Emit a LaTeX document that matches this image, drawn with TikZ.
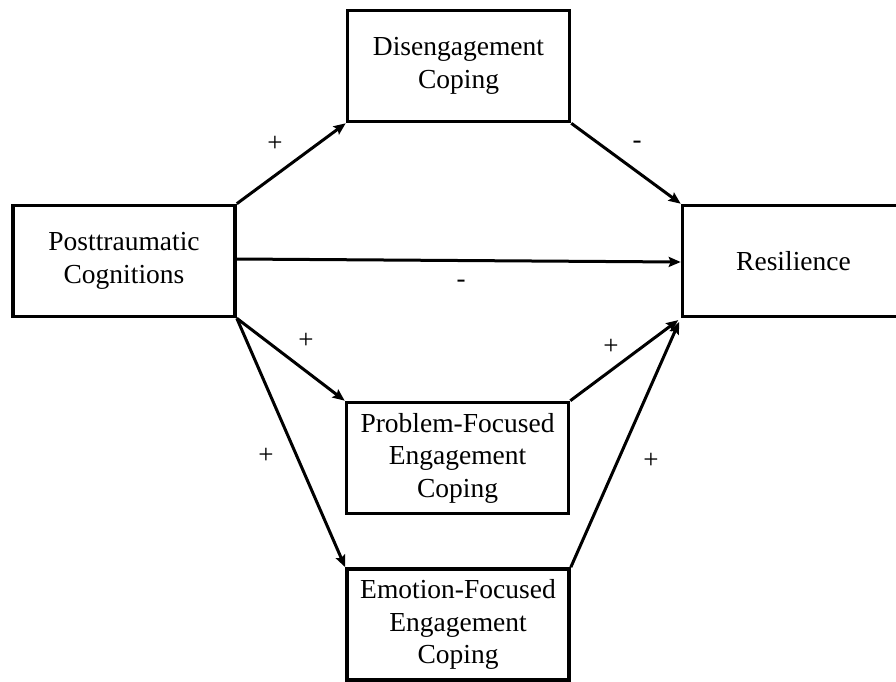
\documentclass[tikz,border=0pt]{standalone}
\usepackage{fontspec}
\setmainfont{Liberation Serif}
\usetikzlibrary{arrows.meta}
\begin{document}
\begin{tikzpicture}[x=1pt,y=-1pt,
  box/.style={draw, line width=3.6pt, minimum width=222pt, minimum height=111pt,
    align=center, inner sep=0pt, font=\fontsize{27.5}{32.5}\selectfont},
  link/.style={line width=3pt, -{Stealth[length=12pt,width=10pt,inset=2pt]}},
  sign/.style={inner sep=0pt, font=\fontsize{27}{30}\selectfont}]
\useasboundingbox (0,0) rectangle (896,681);

% variables
\node[box] (dis)  at (458.5,66)  {Disengagement\\Coping};
\node[box] (post) at (124,261)   {Posttraumatic\\Cognitions};
\node[box] (res)  at (793.5,261) {Resilience};
\node[box] (prob) at (457.5,458) {Problem-Focused\\Engagement\\Coping};
\node[box] (emo)  at (458,624.5) {Emotion-Focused\\Engagement\\Coping};

% paths
\draw[link] (post.north east) -- (dis.south west);
\draw[link] (dis.south east) -- (res.north west);
\draw[link] ([yshift=2pt]post.east) -- ([yshift=-1pt]res.west);
\draw[link] (post.south east) -- (prob.north west);
\draw[link] (post.south east) -- (emo.north west);
\draw[link, shorten >=3pt] (prob.north east) -- (res.south west);
\draw[link, shorten >=4pt] (emo.north east) -- (res.south west);

% signs of the paths
\node[sign] (s1) at (275,144) {+};
\node[sign] (s2) at (637,145) {-};
\node[sign] (s3) at (461,284) {-};
\node[sign] (s4) at (306,341) {+};
\node[sign] (s5) at (611,347) {+};
\node[sign] (s6) at (266,456) {+};
\node[sign] (s7) at (651,461) {+};
\end{tikzpicture}
\end{document}
